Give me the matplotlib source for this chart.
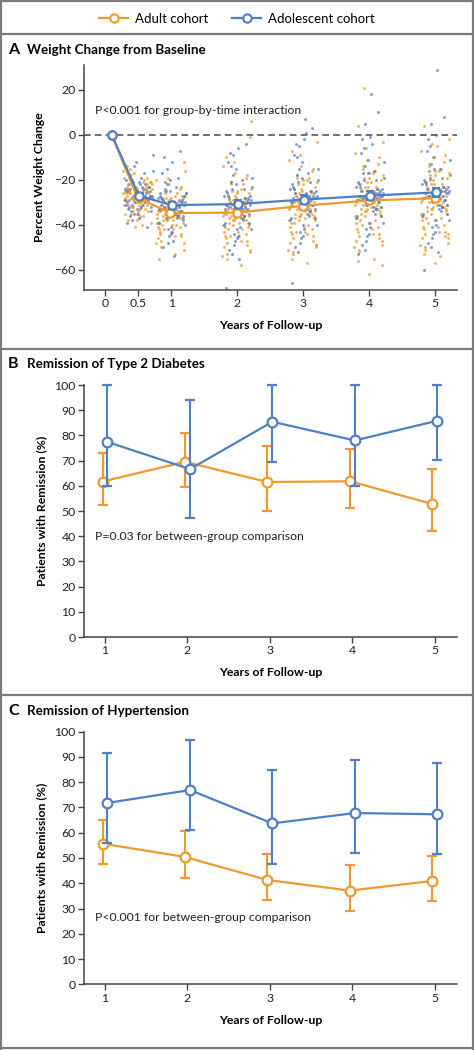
import matplotlib
matplotlib.use("Agg")
import matplotlib.pyplot as plt
import numpy as np
from matplotlib.lines import Line2D

plt.rcParams['font.family'] = ['Lato', 'DejaVu Sans']

ORANGE = '#EE9A2E'
BLUE = '#4F7FC4'
GRAY = '#444444'

# ---------------- Panel A data ----------------
a_years = [0, 0.5, 1, 2, 3, 4, 5]
a_adult_mean = [0, -28.0, -34.8, -34.6, -31.6, -29.2, -28.2]
a_adult_se = [0, 1.0, 1.5, 1.6, 1.7, 1.7, 1.8]
a_adol_mean = [0, -27.1, -31.3, -30.8, -28.8, -27.1, -25.6]
a_adol_se = [0, 1.2, 1.5, 1.8, 1.9, 2.0, 2.1]

scatter_years = [0.5, 1, 2, 3, 4, 5]
adult_pts_05 = [-27,-24,-30,-22,-33,-26,-19,-29,-35,-25,-28,-21,-31,-38,-23,-27,-16,-30,-26,-34,-24,-29,-20,-32,-27,-36,-25,-22,-28,-31,-40,-18,-26,-29,-23,-33,-27,-24,-30,-15,-28,-35,-25,-21,-32,-27,-37,-24,-29,-26,-19,-31,-28,-23,-34,-26,-30,-22,-39,-27,
                -25,-31,-23,-28,-36,-20,-27,-33,-24,-29,-17,-26,-32,-22,-30,-38,-25,-28,-34,-21,-27,-31,-24,-41,-29,-26,-35,-23,-30,-14]
adol_pts_05 = [-26,-30,-22,-35,-28,-19,-32,-25,-12,-29,-24,-38,-27,-21,-33,-26,-30,-9,-23,-36,-28,-25,-31,-17,-27,-34,-22,-29,-41,-26,-24,-31,-20,-28,-35,-25,-30,-14,-27,-32,
               -24,-29,-33,-20,-27,-31,-25,-37,-22,-28,-30,-16,-26,-34,-23,-29,-39,-27,-21,-32]
adult_pts_1 = [-34,-30,-38,-27,-42,-33,-24,-36,-46,-31,-35,-28,-40,-50,-32,-37,-20,-34,-29,-44,-35,-39,-26,-33,-48,-36,-31,-41,-22,-35,-53,-30,-37,-28,-43,-34,-38,-16,-32,-36,-45,-29,-34,-40,-25,-37,-33,-47,-31,-35,-39,-27,-42,-34,-30,-55,-36,-32,-12,-38,
               -33,-37,-29,-41,-35,-26,-39,-32,-44,-36,-30,-48,-34,-38,-23,-31,-42,-36,-28,-51,-33,-40,-35,-19,-37,-45,-32,-27,-43,-34]
adol_pts_1 = [-31,-27,-36,-22,-40,-30,-17,-34,-45,-28,-33,-24,-38,-12,-31,-29,-42,-26,-35,-50,-30,-20,-33,-37,-25,-31,-47,-28,-7,-34,-39,-23,-32,-29,-44,-26,-36,-15,-30,-54,
              -29,-34,-25,-39,-31,-21,-36,-43,-28,-32,-48,-26,-35,-10,-30,-41,-33,-19,-37,-27]
adult_pts_2 = [-34,-28,-40,-24,-45,-32,-19,-37,-50,-30,-36,-26,-43,-55,-31,-38,-14,-34,-29,-47,-35,-41,-22,-33,-52,-36,-27,-44,-17,-35,-58,-30,-39,-25,-46,-33,-38,6,-31,-37,-49,-28,-34,-42,-21,-36,-32,-53,-29,-35,-40,-24,-45,-33,-30,-10,-37,-31,-1,-39,
               -33,-38,-27,-43,-35,-22,-40,-31,-48,-36,-29,-54,-34,-39,-18,-32,-45,-37,-25,-51,-33,-42,-28,-12,-36,-47,-30,-41,-26,-35]
adol_pts_2 = [-30,-25,-36,-18,-42,-29,-12,-34,-47,-27,-33,-21,-39,-6,-31,-28,-44,-23,-35,-51,-30,-15,-33,-38,-24,-31,-55,-27,-4,-34,-40,-20,-32,-28,-46,-68,-36,-9,-29,-41,
              -28,-33,-22,-39,-30,-14,-35,-45,-26,-32,-49,-19,-37,-8,-29,-42,-31,-24,-53,-27]
adult_pts_3 = [-31,-25,-38,-21,-43,-29,-16,-35,-48,-27,-33,-23,-41,-53,-28,-36,-11,-31,-26,-45,-32,-39,-19,-30,-50,-34,-24,-42,-14,-32,-57,-27,-37,-22,-44,-30,-36,-3,-28,-35,-47,-25,-31,-40,-18,-34,-29,-52,-26,-33,-38,-20,-43,-30,-27,-7,-35,-28,-49,-37,
               -30,-35,-24,-41,-32,-19,-38,-28,-46,-33,-26,-51,-31,-37,-15,-29,-43,-34,-22,-49,-30,-39,-25,-9,-33,-44,-27,-36,-20,-55]
adol_pts_3 = [-28,-22,-34,-15,-40,-26,-9,-31,-46,-24,-30,-18,-37,-2,-28,-25,-43,-20,-33,-50,-27,-12,-30,-36,-21,-28,7,-24,3,-32,-38,-17,-29,-26,-45,-66,-34,-5,-27,1,
              -26,-31,-19,-37,-27,-10,-33,-42,-23,-29,-48,-15,-35,-4,-28,-40,-30,-21,-52,-25]
adult_pts_4 = [-29,-23,-36,-18,-42,-27,-13,-33,-47,-25,-31,-20,-39,-52,-26,-34,-8,-29,-24,-44,-30,-37,-16,-28,-49,-32,-22,-41,-11,-30,-55,-25,-35,-19,-43,-28,-34,-3,-26,-33,-46,-23,-29,-38,-15,-32,-27,-51,-24,-31,-36,-17,-40,-28,-62,4,-33,21,-58,-21,
               -28,-33,-21,-39,-30,-14,-36,-25,-45,-31,-23,-50,-29,-35,-10,-27,-42,-32,-19,-47,-26,-38,-24,-6,-31,-44,-28,-34,-17,-56]
adol_pts_4 = [-27,-21,-33,-14,-39,-25,-8,-30,-45,-23,-29,-17,-36,-1,-27,-24,-42,-19,-32,-49,-26,-11,-29,-35,-20,-27,18,-23,10,-31,-37,-16,-28,-25,-44,-53,-33,5,-26,-4,
              -25,-30,-17,-36,-26,-6,-32,-41,-22,-28,-47,-12,-34,-2,-27,-39,-29,-20,-51,-24]
adult_pts_5 = [-28,-22,-35,-17,-41,-26,-12,-32,-46,-24,-30,-19,-38,-51,-25,-33,-7,-28,-23,-43,-29,-36,-15,-27,-48,-31,-21,-40,-10,-29,-54,-24,-34,-18,-42,-27,-33,-2,-25,-32,-45,-22,-28,-37,-14,-31,-26,-50,-23,-30,-35,-16,-39,-27,-57,4,-32,-20,-44,-5,
               -27,-32,-20,-38,-29,-13,-35,-24,-44,-30,-22,-49,-28,-34,-9,-26,-41,-31,-18,-46,-25,-37,-23,-4,-30,-43,-27,-33,-16,-53]
adol_pts_5 = [-26,-20,-32,-13,-38,-24,-7,-29,-44,-22,-28,-16,-35,0,-26,-23,-41,-18,-31,-48,-25,-10,-28,-34,-19,-26,29,-22,8,-30,-36,-15,-27,-24,-43,-60,-32,5,-25,-52,
              -24,-29,-15,-35,-25,-5,-31,-40,-21,-27,-46,-11,-33,-2,-26,-38,-28,-19,-50,-23]
adult_pts = [adult_pts_05, adult_pts_1, adult_pts_2, adult_pts_3, adult_pts_4, adult_pts_5]
adol_pts = [adol_pts_05, adol_pts_1, adol_pts_2, adol_pts_3, adol_pts_4, adol_pts_5]

# ---------------- Panel B data ----------------
years = [1, 2, 3, 4, 5]
b_adult = [61.7, 69.5, 61.5, 61.8, 52.8]
b_adult_lo = [52.2, 59.5, 50.0, 51.3, 41.9]
b_adult_hi = [73.0, 81.1, 75.8, 74.6, 66.8]
b_adol = [77.4, 66.6, 85.4, 78.0, 85.8]
b_adol_lo = [59.8, 47.2, 69.3, 59.9, 70.1]
b_adol_hi = [100.0, 93.9, 100.0, 100.0, 100.0]

# ---------------- Panel C data ----------------
c_adult = [55.7, 50.4, 41.3, 37.1, 40.9]
c_adult_lo = [47.6, 42.0, 33.3, 29.1, 33.1]
c_adult_hi = [65.2, 60.7, 51.7, 47.1, 50.9]
c_adol = [71.8, 76.9, 63.7, 67.8, 67.3]
c_adol_lo = [56.1, 61.1, 47.7, 52.0, 51.7]
c_adol_hi = [91.6, 96.6, 85.0, 88.8, 87.7]

W, H = 474, 1050
fig = plt.figure(figsize=(W / 100, H / 100), dpi=100)


def fx(px):
    return px / W


def fy(py):
    return 1 - py / H


def style_axes(ax):
    for s in ['top', 'right']:
        ax.spines[s].set_visible(False)
    for s in ['left', 'bottom']:
        ax.spines[s].set_color(GRAY)
        ax.spines[s].set_linewidth(1.1)
    ax.tick_params(axis='both', direction='out', length=4, width=1.0, color=GRAY,
                   labelsize=8.8, labelcolor='#222222', pad=2)


# ---------------- Frames ----------------
frame_kw = dict(color='#7a7a7a', lw=1.6, transform=fig.transFigure)
for py in [1, 34, 349, 695, 1048]:
    fig.add_artist(Line2D([0, 1], [fy(py), fy(py)], **frame_kw))
fig.add_artist(Line2D([fx(1), fx(1)], [0, 1], **frame_kw))
fig.add_artist(Line2D([fx(473), fx(473)], [0, 1], **frame_kw))

# ---------------- Legend ----------------
handles = [
    Line2D([], [], color=ORANGE, lw=1.6, marker='o', ms=6, mfc='white', mew=1.5),
    Line2D([], [], color=BLUE, lw=1.6, marker='o', ms=6, mfc='white', mew=1.5),
]
fig.legend(handles, ['Adult cohort', 'Adolescent cohort'], loc='center',
           bbox_to_anchor=(0.5, fy(19)), ncol=2, frameon=False, fontsize=9.5,
           handlelength=2.2, columnspacing=1.8, handletextpad=0.5)

# ---------------- Panel titles ----------------
for letter, title, py in [('A', 'Weight Change from Baseline', 50),
                          ('B', 'Remission of Type 2 Diabetes', 364),
                          ('C', 'Remission of Hypertension', 711)]:
    fig.text(fx(8), fy(py), letter, fontsize=11.5, fontweight='bold', va='center', ha='left')
    fig.text(fx(27), fy(py), title, fontsize=9.6, fontweight='bold', va='center', ha='left')

# ---------------- Panel A ----------------
axA = fig.add_axes([fx(84), fy(290), fx(457) - fx(84), (290 - 65) / H])
style_axes(axA)
axA.set_xlim(-0.32, 5.33)
axA.set_ylim(-69, 31)
golden = 0.6180339887
for k, yr in enumerate(scatter_years):
    for pts, col, phase, dx in [(adult_pts[k], ORANGE, 0.13, -0.01), (adol_pts[k], BLUE, 0.47, 0.01)]:
        n = len(pts)
        offs = np.array([((i * golden + phase) % 1.0 - 0.5) * 0.44 for i in range(n)])
        axA.scatter(yr + dx + offs, pts, s=4.5, color=col, alpha=0.75, lw=0, zorder=1)
axA.axhline(0, color='#555555', lw=1.2, ls=(0, (4, 2.5)), zorder=2)
xa_adult = [0.1] + [x - 0.01 for x in a_years[1:]]
xa_adol = [0.1] + [x + 0.01 for x in a_years[1:]]
axA.errorbar(xa_adult, a_adult_mean, yerr=a_adult_se, color=ORANGE, lw=1.6, marker='o', ms=6,
             mfc='white', mec=ORANGE, mew=1.6, capsize=3, elinewidth=1.4, capthick=1.4, zorder=3)
axA.errorbar(xa_adol, a_adol_mean, yerr=a_adol_se, color=BLUE, lw=1.6, marker='o', ms=6,
             mfc='white', mec=BLUE, mew=1.6, capsize=3, elinewidth=1.4, capthick=1.4, zorder=4)
axA.set_xticks(a_years)
axA.set_xticklabels(['0', '0.5', '1', '2', '3', '4', '5'])
axA.set_yticks([-60, -40, -20, 0, 20])
axA.set_yticklabels(['\u221260', '\u221240', '\u221220', '0', '20'])
axA.set_ylabel('Percent Weight Change', fontsize=8.8, fontweight='bold', labelpad=7)
axA.set_xlabel('Years of Follow-up', fontsize=8.8, fontweight='bold', labelpad=8)
axA.text(-0.15, 10.8, 'P<0.001 for group-by-time interaction', fontsize=8.8, va='center',
         ha='left', color='#222222')


def remission_panel(top_px, bottom_px, ad, ad_lo, ad_hi, ol, ol_lo, ol_hi, ptext, py):
    ax = fig.add_axes([fx(84), fy(bottom_px), fx(457) - fx(84), (bottom_px - top_px) / H])
    style_axes(ax)
    ax.set_xlim(0.745, 5.27)
    ax.set_ylim(0, 100)
    ax.spines['left'].set_bounds(0, 100)
    xo = [x - 0.03 for x in years]
    xb = [x + 0.03 for x in years]
    ad, ad_lo, ad_hi = map(np.array, (ad, ad_lo, ad_hi))
    ol, ol_lo, ol_hi = map(np.array, (ol, ol_lo, ol_hi))
    ax.errorbar(xo, ad, yerr=[ad - ad_lo, ad_hi - ad], color=ORANGE, lw=1.6, marker='o', ms=7,
                mfc='white', mec=ORANGE, mew=1.6, capsize=3.5, elinewidth=1.5, capthick=1.5,
                zorder=3, clip_on=False)
    ax.errorbar(xb, ol, yerr=[ol - ol_lo, ol_hi - ol], color=BLUE, lw=1.6, marker='o', ms=7,
                mfc='white', mec=BLUE, mew=1.6, capsize=3.5, elinewidth=1.5, capthick=1.5,
                zorder=4, clip_on=False)
    ax.set_xticks(years)
    ax.set_yticks(range(0, 101, 10))
    ax.set_ylabel('Patients with Remission (%)', fontsize=8.8, fontweight='bold', labelpad=5)
    ax.set_xlabel('Years of Follow-up', fontsize=8.8, fontweight='bold', labelpad=8)
    ax.text(0.88, py, ptext, fontsize=8.8, va='center', ha='left', color='#222222')
    return ax


remission_panel(385, 637, b_adult, b_adult_lo, b_adult_hi, b_adol, b_adol_lo, b_adol_hi,
                'P=0.03 for between-group comparison', 40)
remission_panel(731.7, 984.3, c_adult, c_adult_lo, c_adult_hi, c_adol, c_adol_lo, c_adol_hi,
                'P<0.001 for between-group comparison', 26.5)

fig.savefig('out.png', dpi=100)
